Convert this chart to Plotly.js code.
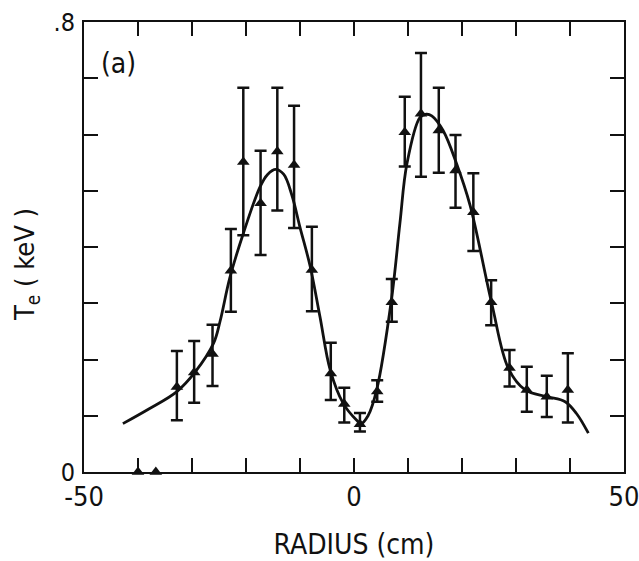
<!DOCTYPE html>
<html>
<head>
<meta charset="utf-8">
<script src="https://cdn.plot.ly/plotly-3.0.1.min.js"></script>
<style>html,body{margin:0;padding:0;background:#fff;}</style>
</head>
<body>
<div id="chart" style="width:639px;height:561px;"></div>
<script>
// Measured points (RADIUS cm, Te keV) with error bar tops and bottoms
const radius = [-32.8,-29.6,-26.2,-22.8,-20.5,-17.3,-14.2,-11.1,-7.8,-4.3,-1.8,1.1,4.3,7.0,9.4,12.4,15.7,18.8,22.1,25.4,28.8,32.0,35.7,39.6];
const te     = [0.151,0.177,0.210,0.358,0.551,0.478,0.570,0.546,0.359,0.175,0.121,0.085,0.143,0.302,0.604,0.637,0.607,0.536,0.462,0.302,0.185,0.146,0.134,0.146];
const errTop = [0.215,0.233,0.262,0.432,0.683,0.571,0.683,0.651,0.436,0.230,0.150,0.105,0.163,0.343,0.667,0.745,0.683,0.599,0.531,0.341,0.217,0.187,0.171,0.211];
const errBot = [0.092,0.123,0.153,0.285,0.421,0.386,0.465,0.434,0.286,0.128,0.088,0.072,0.125,0.267,0.543,0.525,0.532,0.470,0.393,0.261,0.152,0.107,0.098,0.088];
// Points at zero (no error bars)
const radiusZero = [-40.0,-36.7];
const teZero = [0.0,0.0];
// Fitted curve
const curveX = [-42.8,-38.0,-32.8,-29.4,-26.0,-24.8,-23.0,-20.5,-17.4,-16.0,-14.5,-13.0,-11.5,-10.0,-8.1,-6.3,-4.4,-2.0,0.5,1.3,2.6,4.2,7.0,8.5,9.8,12.2,13.4,14.4,16.5,19.0,21.5,25.5,28.6,31.7,35.7,39.1,41.2,43.4];
const curveY = [0.086,0.112,0.143,0.178,0.229,0.268,0.345,0.424,0.507,0.529,0.538,0.529,0.492,0.435,0.365,0.276,0.181,0.122,0.092,0.086,0.100,0.146,0.311,0.442,0.548,0.630,0.636,0.633,0.607,0.548,0.474,0.300,0.184,0.146,0.134,0.125,0.104,0.069];
// Tick labels
const xTickVals = [-50,-40,-30,-20,-10,0,10,20,30,40,50];
const xTickText = ["-50","","","","","0","","","","","50"];
const yTickVals = [0,0.1,0.2,0.3,0.4,0.5,0.6,0.7,0.8];
const yTickText = ["0","","","","","","","",".8"];

const errPlus = te.map((v,i)=>errTop[i]-v);
const errMinus = te.map((v,i)=>v-errBot[i]);
const FONT = '"DejaVu Sans Condensed","DejaVu Sans",sans-serif';

const traces = [
  {x: curveX, y: curveY, mode:'lines', line:{color:'#111', width:2.8, shape:'spline', smoothing:1}, hoverinfo:'skip', showlegend:false},
  {x: radius, y: te, mode:'markers', marker:{symbol:'triangle-up', size:11, color:'#111'},
   error_y:{type:'data', symmetric:false, array: errPlus, arrayminus: errMinus, color:'#111', thickness:2.5, width:6},
   showlegend:false},
  {x: radiusZero, y: teZero, mode:'markers', marker:{symbol:'triangle-up', size:11, color:'#111'}, cliponaxis:false, showlegend:false}
];

const axisCommon = {
  showgrid:false, zeroline:false, showline:true, linecolor:'#111', linewidth:2,
  mirror:'ticks', ticks:'inside', ticklen:14, tickwidth:2, tickcolor:'#111',
  tickfont:{family:FONT, size:27, color:'#111'}
};

const layout = {
  width:639, height:561,
  margin:{l:84, r:15, t:22, b:89},
  paper_bgcolor:'#fff', plot_bgcolor:'#fff',
  font:{family:FONT, color:'#111'},
  xaxis: Object.assign({}, axisCommon, {
    range:[-50,50], tickmode:'array', tickvals:xTickVals, ticktext:xTickText,
    ticklabeloverflow:'allow',
    title:{text:'RADIUS (cm)', font:{family:FONT, size:28, color:'#111'}, standoff:24}
  }),
  yaxis: Object.assign({}, axisCommon, {
    range:[0,0.8], tickmode:'array', tickvals:yTickVals, ticktext:yTickText,
    tickfont:{family:FONT, size:25, color:'#111'}, ticklabelstandoff:2, ticklabeloverflow:'allow'
  }),
  annotations:[
    {text:'(a)', xref:'paper', yref:'paper', x:(118-84)/540, y:(472-63)/450, showarrow:false,
     font:{family:FONT, size:28, color:'#111'}, xanchor:'center', yanchor:'middle'},
    {text:'T<sub>e</sub> ( keV )', xref:'paper', yref:'paper', x:(26-84)/540, y:(472-265)/450, showarrow:false,
     textangle:-90, font:{family:FONT, size:27, color:'#111'}, xanchor:'center', yanchor:'middle'}
  ]
};

Plotly.newPlot('chart', traces, layout, {displayModeBar:false, staticPlot:true});
</script>
</body>
</html>
